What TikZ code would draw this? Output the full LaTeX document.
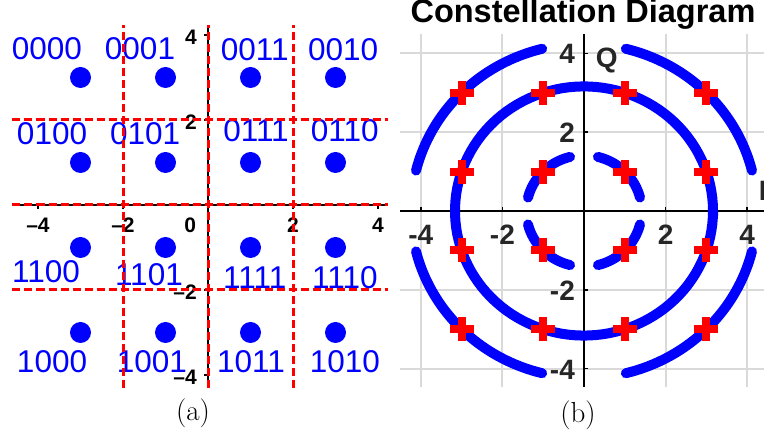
\documentclass[tikz,border=0pt]{standalone}
\usepackage{fontspec}
\newfontfamily\arialfont{Liberation Sans}
\tikzset{redcross/.pic={\fill[red] (-12pt,-4pt) rectangle (12pt,4pt); \fill[red] (-4pt,-12pt) rectangle (4pt,12pt);}}
\begin{document}
\begin{tikzpicture}[x=1pt,y=1pt,
    bitlabel/.style={blue,inner sep=0pt,font=\arialfont\fontsize{31.5}{32}\selectfont},
    ticka/.style={inner sep=0pt,font=\arialfont\bfseries\fontsize{21}{21}\selectfont},
    tickb/.style={inner sep=0pt,text=black!85,font=\arialfont\bfseries\fontsize{28}{28}\selectfont},
    caption/.style={inner sep=0pt,font=\fontsize{29}{30}\selectfont},
    reddash/.style={red,line width=3pt,dash pattern=on 8pt off 4pt},
    ring/.style={blue,line width=10pt,line cap=round},
    gridline/.style={black!15,line width=2pt}]
\useasboundingbox (0,0) rectangle (764,444);
\begin{scope}[shift={(208pt,239pt)},x=42.5pt,y=42.5pt]
    \draw[line width=2pt] (-4.6,0) -- (4.24,0);
    \draw[line width=2pt] (0,-4.31) -- (0,4.24);
    \foreach \t in {-4,-2,2,4} {
        \draw[line width=1.5pt] (\t,0) -- (\t,-0.1);
        \draw[line width=1.5pt] (0,\t) -- (-0.1,\t);
    }
    \foreach \t/\tl in {-4/{\textendash4},-2/{\textendash2},2/2,4/4}
        \node[ticka] (xa\t) at (\t,-0.47) {\tl};
    \node[ticka] (xa0) at (-0.42,-0.47) {0};
    \foreach \t/\tl in {4/4,2/2,-2/{\textendash2},-4/{\textendash4}}
        \node[ticka,anchor=east] (ya\t) at (-0.26,\t-0.05) {\tl};
    \foreach \px in {-3,-1,1,3}
        \foreach \py in {-3,-1,1,3}
            \fill[blue] (\px,\py) circle[radius=10.5pt];
    \foreach \lbl/\lx/\ly in {0000/-3.79/3.69,0001/-1.6/3.69,0011/1.1/3.65,0010/3.18/3.65,
            0100/-3.67/1.69,0101/-1.48/1.69,0111/1.13/1.76,0110/3.22/1.76,
            1100/-3.81/-1.58,1101/-1.39/-1.65,1111/1.1/-1.72,1110/3.22/-1.72,
            1000/-3.67/-3.69,1001/-1.32/-3.69,1011/1.01/-3.69,1010/3.22/-3.69}
        \node[bitlabel] (s\lbl) at (\lx,\ly) {\lbl};
    \foreach \t in {-2,0,2} {
        \draw[reddash] (\t,-4.31) -- (\t,4.24);
        \draw[reddash] (-4.6,\t) -- (4.24,\t);
    }
\end{scope}
\node[caption] (capa) at (193,31) {(a)};
\begin{scope}[shift={(584pt,233pt)},x=40.8pt,y=39.4pt]
    \foreach \g in {-4,-2,2,4} {
        \draw[gridline] (\g,-4.47) -- (\g,4.5);
        \draw[gridline] (-4.5,\g) -- (4.45,\g);
    }
    \draw[line width=2pt] (-4.5,0) -- (4.45,0);
    \draw[line width=2pt] (0,-4.47) -- (0,4.5);
    \foreach \t in {-4,-2,2,4} {
        \draw[line width=1.5pt] (\t,0) -- (\t,0.1);
        \draw[line width=1.5pt] (0,\t) -- (0.1,\t);
    }
    \foreach \t in {-4,-2,2,4}
        \node[tickb] (xb\t) at (\t,-0.61) {\t};
    \foreach \t in {4,2,-2,-4}
        \node[tickb,anchor=east] (yb\t) at (-0.22,\t-0.02) {\t};
    \node[tickb] (qlab) at (0.56,3.81) {Q};
    \node[tickb,anchor=west] (ilab) at (4.28,0.51) {I};
    \foreach \q in {0,90,180,270} {
        \pgfmathsetmacro{\qa}{\q+14}
        \pgfmathsetmacro{\qb}{\q+76}
        \draw[ring] plot[domain=\qa:\qb,samples=40] (\x:1.414);
        \draw[ring] plot[domain=\qa:\qb,samples=40] (\x:4.243);
    }
    \draw[ring] plot[domain=0:360,samples=120] (\x:3.162) -- cycle;
    \foreach \px in {-3,-1,1,3}
        \foreach \py in {-3,-1,1,3}
            \pic at (\px,\py) {redcross};
\end{scope}
\node[inner sep=0pt,anchor=base,font=\arialfont\bfseries\fontsize{32.5}{33}\selectfont] (title) at (583,421) {Constellation Diagram};
\node[caption] (capb) at (578,29) {(b)};
\end{tikzpicture}
\end{document}
